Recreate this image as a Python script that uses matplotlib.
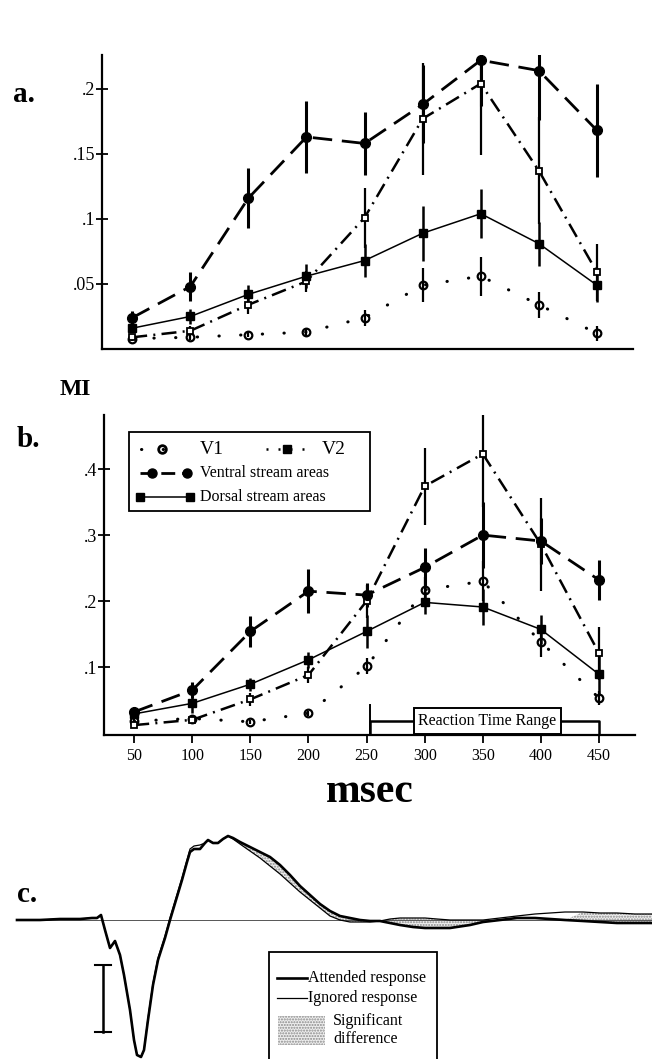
import matplotlib.pyplot as plt
from matplotlib.patches import Rectangle
import numpy as np

plt.rcParams['font.family'] = ['Liberation Serif', 'DejaVu Serif']

msec = [50, 100, 150, 200, 250, 300, 350, 400, 450]
msec_labels = ['50', '100', '150', '200', '250', '300', '350', '400', '450']

# a. MI over time
v1_a = [0.008, 0.009, 0.011, 0.013, 0.024, 0.049, 0.056, 0.034, 0.012]
v1_a_err = [0.002, 0.002, 0.002, 0.003, 0.006, 0.013, 0.015, 0.010, 0.006]
v2_a = [0.009, 0.014, 0.034, 0.052, 0.101, 0.177, 0.204, 0.137, 0.059]
v2_a_err = [0.002, 0.004, 0.007, 0.008, 0.023, 0.043, 0.055, 0.041, 0.022]
ventral_a = [0.024, 0.048, 0.116, 0.163, 0.158, 0.188, 0.222, 0.214, 0.168]
ventral_a_err = [0.005, 0.011, 0.023, 0.028, 0.024, 0.030, 0.035, 0.038, 0.036]
dorsal_a = [0.016, 0.025, 0.042, 0.056, 0.068, 0.089, 0.104, 0.081, 0.049]
dorsal_a_err = [0.003, 0.006, 0.007, 0.009, 0.013, 0.021, 0.019, 0.017, 0.013]

# b.
v1_b = [0.018, 0.022, 0.017, 0.030, 0.101, 0.217, 0.230, 0.138, 0.053]
v1_b_err = [0.003, 0.005, 0.003, 0.004, 0.012, 0.020, 0.030, 0.023, 0.010]
v2_b = [0.012, 0.020, 0.051, 0.088, 0.200, 0.374, 0.423, 0.286, 0.121]
v2_b_err = [0.004, 0.005, 0.010, 0.012, 0.025, 0.058, 0.080, 0.070, 0.040]
ventral_b = [0.032, 0.065, 0.154, 0.215, 0.209, 0.251, 0.300, 0.291, 0.232]
ventral_b_err = [0.008, 0.012, 0.023, 0.033, 0.018, 0.030, 0.050, 0.035, 0.030]
dorsal_b = [0.029, 0.045, 0.074, 0.111, 0.154, 0.198, 0.191, 0.157, 0.089]
dorsal_b_err = [0.006, 0.015, 0.010, 0.012, 0.025, 0.017, 0.028, 0.022, 0.030]

rt_range = (253, 450)
rt_label = 'Reaction Time Range'

# c. response waveforms (time, amplitude above baseline)
wave_t = [17, 40, 60, 80, 92, 97, 101, 105, 110, 115, 120, 124, 130, 134, 137, 141, 144,
          148, 153, 158, 165, 170, 176, 182, 187, 190, 194, 200, 205, 208, 213, 218, 223,
          228, 233, 240, 250, 260, 270, 280, 290, 300, 310, 320, 330, 340, 350, 360, 370,
          380, 390, 400, 413, 425, 437, 450, 470, 483, 500, 517, 535, 550, 565, 583, 600,
          617, 635, 652]
attended = [0, 0, 1, 1, 2, 2, 5, -10, -28, -21, -35, -55, -90, -120, -135, -137, -130,
            -100, -65, -40, -18, 0, 20, 40, 58, 68, 71, 71, 77, 80, 77, 77, 81,
            84, 82, 78, 73, 68, 63, 55, 45, 34, 25, 16, 9, 4, 2, 0, -1,
            -1, -3, -5, -7, -8, -8, -8, -5, -2, 0, 2, 2, 1, 0, -1, -2,
            -3, -3, -3]
ignored = [0, 0, 1, 1, 2, 2, 5, -10, -28, -21, -35, -55, -90, -120, -135, -137, -130,
           -98, -63, -38, -16, 2, 22, 42, 60, 71, 74, 75, 77, 80, 77, 77, 81,
           84, 81, 76, 69, 62, 54, 46, 37, 28, 20, 12, 4, 0, -2, -2, -2,
           -1, 1, 2, 2, 2, 1, 0, 0, 0, 2, 4, 6, 7, 8, 8, 7,
           7, 6, 6]
sig_ranges = [(228, 483), (583, 652)]
scale_bar = (103, -45, -112)

W, H = 652, 1059
fig = plt.figure(figsize=(W / 100, H / 100), dpi=100)


def add_ax(x0, y0, x1, y1):
    # pixel box, origin top-left
    return fig.add_axes([x0 / W, 1 - y1 / H, (x1 - x0) / W, (y1 - y0) / H])


def ftext(px, py, s, **kw):
    fig.text(px / W, 1 - py / H, s, **kw)


styles = {
    'v1': dict(ls=(0, (0.1, 7)), lw=2.2, dash_capstyle='round', marker='o', ms=5.5,
               mfc='none', mew=1.6),
    'v2': dict(ls=(0, (6, 2.5, 0.8, 2.5)), lw=1.8, marker='s', ms=5, mfc='white', mew=1.3),
    'ventral': dict(ls=(0, (7, 3.5)), lw=2.0, marker='o', ms=7),
    'dorsal': dict(ls='-', lw=1.1, marker='s', ms=6),
}
err_lw = {'v1': 1.6, 'v2': 1.6, 'ventral': 2.2, 'dorsal': 1.8}


def draw_series(ax, data):
    for key, (vals, errs) in data.items():
        ax.errorbar(msec, vals, yerr=errs, fmt='none', ecolor='k',
                    elinewidth=err_lw[key], capsize=0, zorder=2)
        ax.plot(msec, vals, color='k', zorder=3, **styles[key])


def style_axes(ax, yticks, ylabels, ylim):
    ax.set_xlim(24, 481)
    ax.set_ylim(*ylim)
    for s in ('top', 'right'):
        ax.spines[s].set_visible(False)
    for s in ('left', 'bottom'):
        ax.spines[s].set_linewidth(1.6)
    ax.set_yticks(yticks)
    ax.set_yticklabels(ylabels)
    ax.tick_params(axis='y', direction='inout', length=8, width=1.3, labelsize=13, pad=1)


# ---- panel a
ax_a = add_ax(102, 55, 633, 349)
style_axes(ax_a, [0.05, 0.1, 0.15, 0.2], ['.05', '.1', '.15', '.2'], (0, 0.226))
ax_a.set_xticks([])
draw_series(ax_a, {'v1': (v1_a, v1_a_err), 'v2': (v2_a, v2_a_err),
                   'dorsal': (dorsal_a, dorsal_a_err), 'ventral': (ventral_a, ventral_a_err)})

# ---- panel b
ax_b = add_ax(104, 415, 635, 735)
style_axes(ax_b, [0.1, 0.2, 0.3, 0.4], ['.1', '.2', '.3', '.4'], (-0.003, 0.482))
ax_b.set_xticks(msec)
ax_b.set_xticklabels(msec_labels)
ax_b.tick_params(axis='x', direction='out', length=6, width=1.3, labelsize=11.5, pad=3)
draw_series(ax_b, {'v1': (v1_b, v1_b_err), 'v2': (v2_b, v2_b_err),
                   'dorsal': (dorsal_b, dorsal_b_err), 'ventral': (ventral_b, ventral_b_err)})

# reaction time bracket
ax_b.plot([rt_range[0], rt_range[0], rt_range[1], rt_range[1]],
          [0.0, 0.018, 0.018, 0.0], color='k', lw=1.8, zorder=4)
ax_b.plot([rt_range[0], rt_range[0]], [0.0, 0.042], color='k', lw=1.4, zorder=4)
ax_b.text(354, 0.018, rt_label, ha='center', va='center', fontsize=11.5, zorder=5,
          bbox=dict(boxstyle='square,pad=0.3', fc='white', ec='k', lw=1.4))


# legend (axes fraction from pixels)
def bx(px):
    return (px - 104) / 531


def by(py):
    return (735 - py) / 320


tb = ax_b.transAxes
ax_b.add_patch(Rectangle((bx(129), by(511)), bx(370) - bx(129), by(432) - by(511),
                         transform=tb, fill=False, ec='k', lw=1.3, clip_on=False))
ax_b.plot([bx(141), bx(181)], [by(449)] * 2, transform=tb, color='k',
          **{k: v for k, v in styles['v1'].items() if k not in ('marker', 'ms', 'mfc', 'mew')})
ax_b.plot([bx(162)], [by(449)], transform=tb, color='k', marker='o', ms=5.5, mfc='none', mew=2)
ax_b.plot([bx(266), bx(310)], [by(449)] * 2, transform=tb, color='k',
          ls=(0, (0.8, 4)), lw=1.8)
ax_b.plot([bx(287)], [by(449)], transform=tb, color='k', marker='s', ms=6)
ax_b.plot([bx(140), bx(190)], [by(473)] * 2, transform=tb, color='k', ls=(0, (5, 2.5)), lw=2.0)
ax_b.plot([bx(152), bx(187)], [by(473)] * 2, transform=tb, color='k', ls='none', marker='o', ms=6.5)
ax_b.plot([bx(140), bx(190)], [by(497)] * 2, transform=tb, color='k', lw=1.1,
          marker='s', ms=5.5, markevery=[0, 1])
ax_b.text(bx(200), by(449), 'V1', transform=tb, fontsize=14, va='center')
ax_b.text(bx(322), by(449), 'V2', transform=tb, fontsize=14, va='center')
ax_b.text(bx(200), by(473), 'Ventral stream areas', transform=tb, fontsize=11.5, va='center')
ax_b.text(bx(200), by(497), 'Dorsal stream areas', transform=tb, fontsize=11.5, va='center')

# ---- panel c
ax_c = add_ax(0, 820, 652, 1059)
ax_c.axis('off')
ax_c.set_xlim(0, 652)
ax_c.set_ylim(-139, 100)
t = np.array(wave_t)
att = np.array(attended)
ign = np.array(ignored)
mask = np.zeros(len(t), dtype=bool)
for lo, hi in sig_ranges:
    mask |= (t >= lo) & (t <= hi)
ax_c.fill_between(t, att, ign, where=mask, interpolate=True, facecolor='#eeeeee',
                  edgecolor='#8a8a8a', hatch='......', linewidth=0)
ax_c.plot([t[0], 652], [0, 0], color='#555555', lw=0.7)
ax_c.plot(t, ign, color='k', lw=0.9)
ax_c.plot(t, att, color='k', lw=1.9)

sx, s_top, s_bot = scale_bar
ax_c.plot([sx, sx], [s_top, s_bot], color='k', lw=1.8)
ax_c.plot([sx - 8, sx + 8], [s_top, s_top], color='k', lw=1.5)
ax_c.plot([sx - 8, sx + 8], [s_bot, s_bot], color='k', lw=1.5)

ax_c.add_patch(Rectangle((269, -150), 168, 118, fill=False, ec='k', lw=1.3))
ax_c.plot([277, 307], [-58, -58], color='k', lw=1.9)
ax_c.plot([277, 307], [-78, -78], color='k', lw=0.9)
ax_c.text(308, -58, 'Attended response', fontsize=11.5, va='center')
ax_c.text(308, -78, 'Ignored response', fontsize=11.5, va='center')
ax_c.add_patch(Rectangle((278, -125), 47, 29, facecolor='#eeeeee', edgecolor='#8a8a8a',
                         hatch='......', lw=0))
ax_c.text(333, -110, 'Significant\ndifference', fontsize=11.5, va='center', linespacing=1.1)

# panel labels
ftext(13, 102, 'a.', fontsize=21, fontweight='bold', va='baseline')
ftext(17, 447, 'b.', fontsize=21, fontweight='bold', va='baseline')
ftext(17, 902, 'c.', fontsize=21, fontweight='bold', va='baseline')
ftext(60, 395, 'MI', fontsize=17, fontweight='bold', va='baseline')
ftext(370, 802, 'msec', fontsize=30, fontweight='bold', va='baseline', ha='center')

fig.savefig('out.png', dpi=100)
